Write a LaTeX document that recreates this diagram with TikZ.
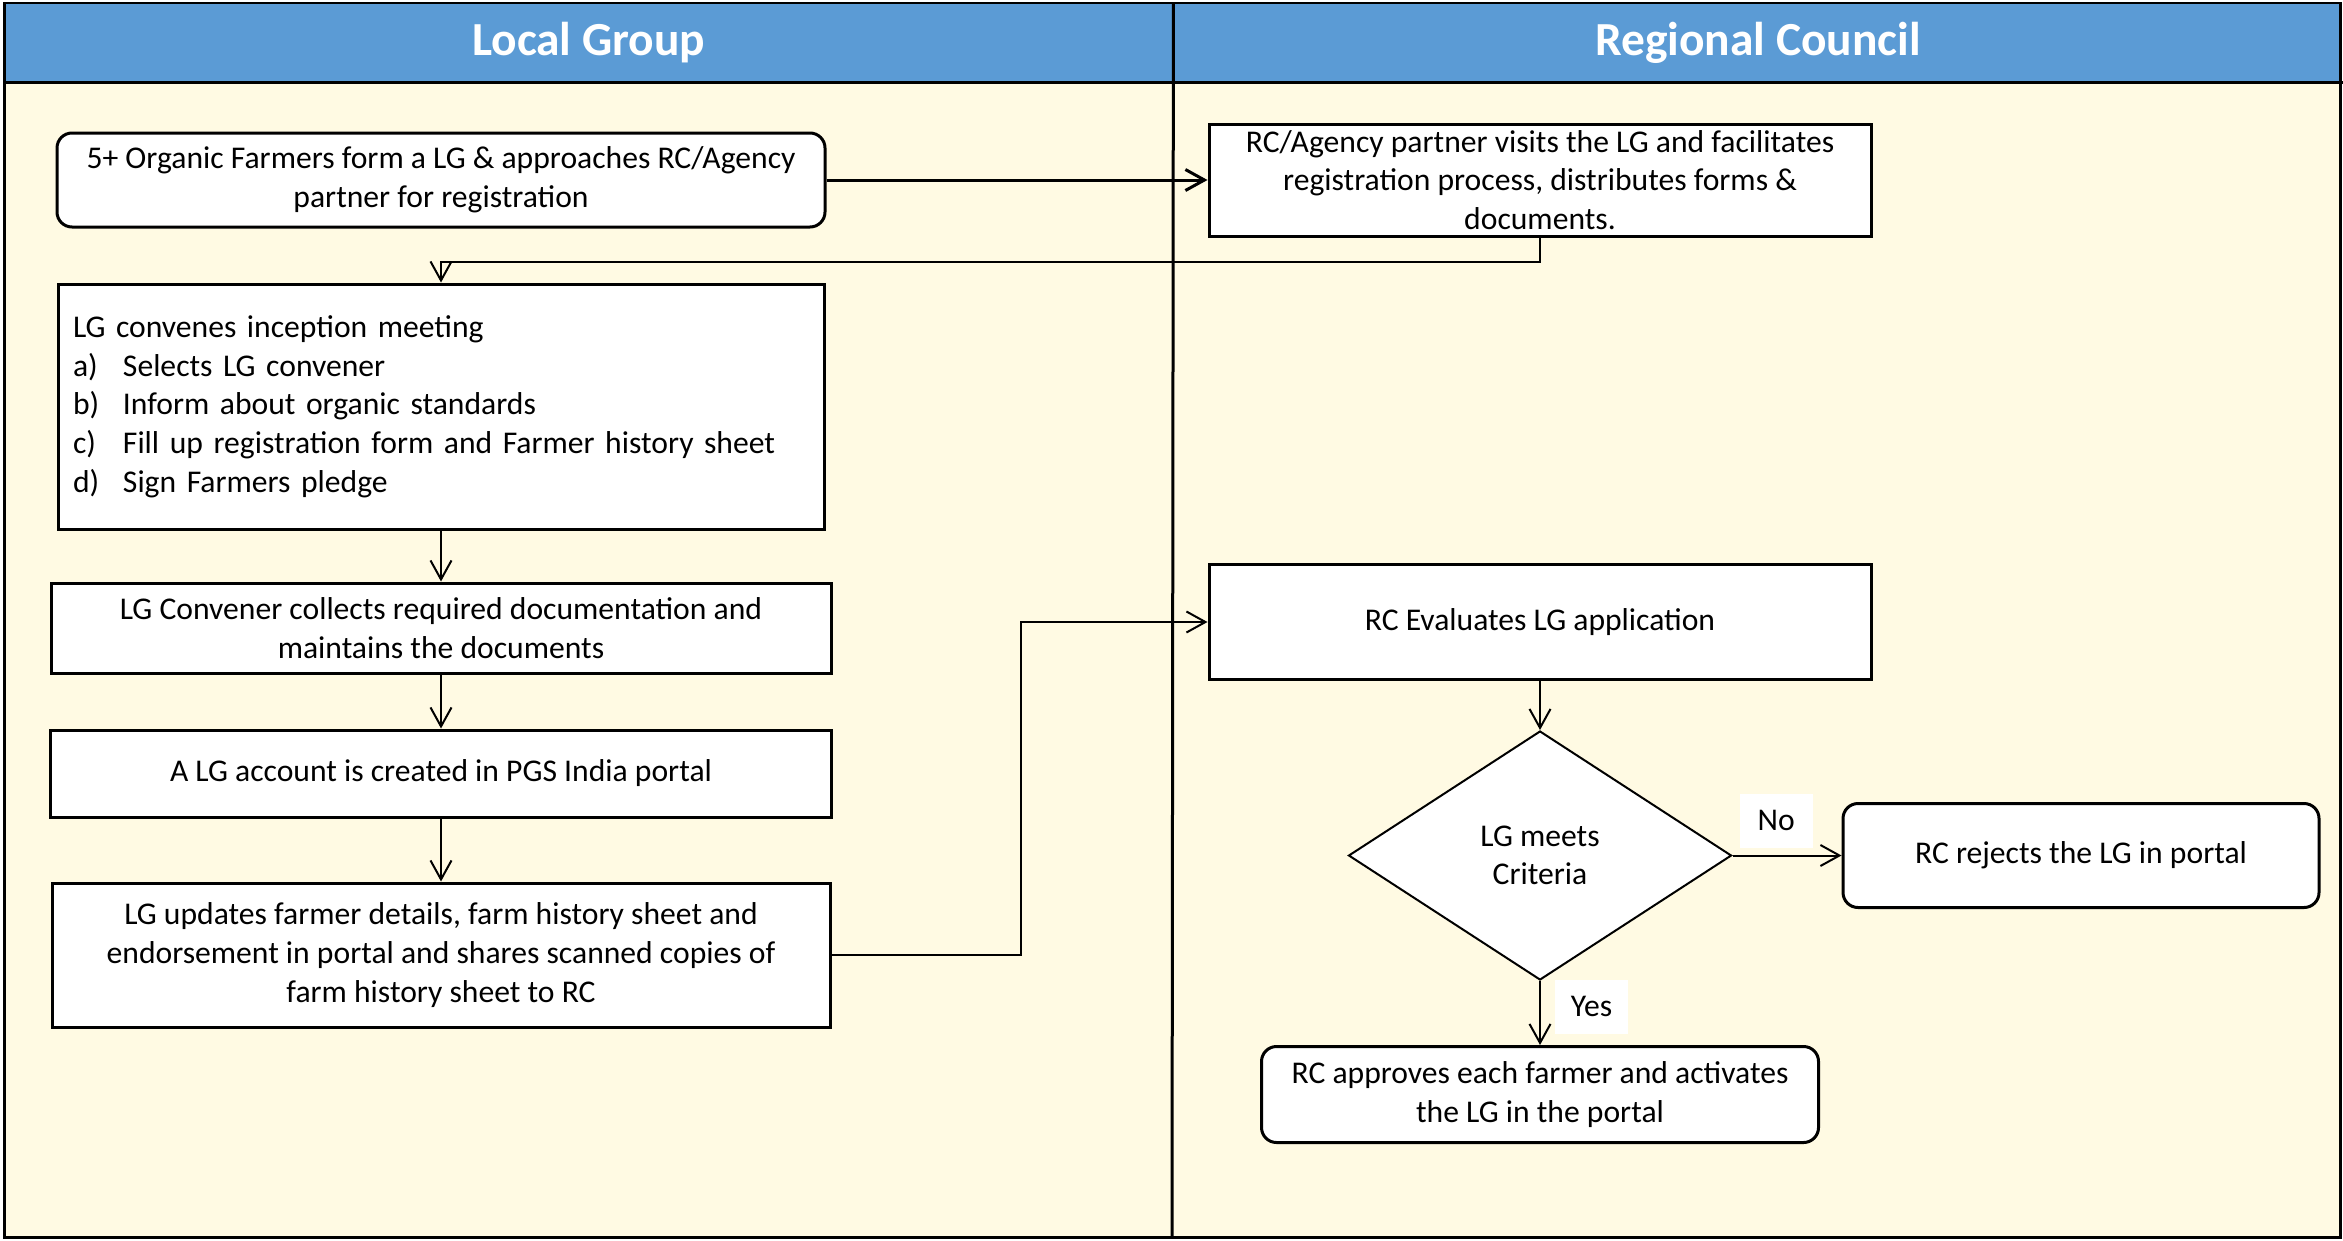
\documentclass[tikz,border=0pt]{standalone}
\usepackage{fontspec}
\setmainfont{Carlito}
\usetikzlibrary{positioning, calc, shapes.geometric, arrows.meta}

\definecolor{laneblue}{RGB}{91,155,213}
\definecolor{laneyellow}{RGB}{255,250,227}

\begin{document}
\begin{tikzpicture}[
        x=0.1mm, y=0.1mm,
        font=\fontsize{9}{11}\selectfont,
        block/.style={
          align=center, draw, fill=white, line width=0.3mm, inner xsep=1.5mm, inner ysep=0.5mm
        },
        rblock/.style={
          block, rounded corners=1.5mm
        },
        decision/.style={
          diamond, align=center, draw, fill=white, line width=0.2mm, inner sep=0mm, minimum width=38.3mm, minimum height=24.9mm
        },
        tag/.style={
          fill=white, minimum width=7.3mm, minimum height=5.4mm, inner sep=0mm
        },
        lanehead/.style={
          fill=laneblue, text=white, font=\fontsize{13.5}{15}\selectfont\bfseries, minimum width=116.8mm, minimum height=7.8mm, inner sep=0mm
        },
        >={Straight Barb[length=1.9mm, width=2.1mm]},
      ]
        \useasboundingbox (0,0) rectangle (2343,-1240);

        % Lanes
        \fill [laneyellow] (4,-81) rectangle (2340,-1237);
        \node [lanehead, anchor=north west] (lg_head) at (4,-3) {Local Group};
        \node [lanehead, anchor=north west] (rc_head) at (lg_head.north east) {Regional Council};
        \draw [line width=0.3mm] (4,-3) rectangle (2340,-1237);
        \draw [line width=0.3mm] (lg_head.south west) -- (rc_head.south east);
        \draw [line width=0.3mm] (lg_head.north east) -- (1172,-1237);

        % Local group steps
        \node [rblock, minimum width=76.8mm, minimum height=9.4mm] (lg_form) at (441,-180) {5+ Organic Farmers form a LG \& approaches RC/Agency\\partner for registration};
        \node [block, align=left, text width=73.6mm, minimum height=24.5mm, below=5.4mm of lg_form] (lg_meeting) {LG convenes inception meeting\\
          \makebox[5mm][l]{a)}Selects LG convener\\
          \makebox[5mm][l]{b)}Inform about organic standards\\
          \makebox[5mm][l]{c)}Fill up registration form and Farmer history sheet\\
          \makebox[5mm][l]{d)}Sign Farmers  pledge};
        \node [block, minimum width=78mm, minimum height=9mm, below=5.1mm of lg_meeting] (lg_collect) {LG Convener collects required documentation  and\\maintains the documents};
        \node [block, minimum width=78.1mm, minimum height=8.7mm, below=5.4mm of lg_collect] (lg_account) {A LG account is created in PGS India portal};
        \node [block, minimum width=77.8mm, minimum height=14.4mm, below=6.3mm of lg_account] (lg_update) {LG updates farmer details, farm history sheet and\\endorsement in portal and shares scanned copies of\\farm history sheet to RC};

        % Regional council steps
        \node [block, minimum width=66.2mm, minimum height=11.2mm, right=38.1mm of lg_form] (rc_visit) {RC/Agency partner  visits the LG and facilitates\\registration process, distributes forms \&\\documents.};
        \node [block, minimum width=66.2mm, minimum height=11.5mm] (rc_eval) at (1540,-622) {RC Evaluates LG application};
        \node [decision, below=4.9mm of rc_eval] (criteria) {LG meets\\Criteria};
        \node [rblock, minimum width=47.6mm, minimum height=10.4mm, right=10.9mm of criteria] (rc_reject) {RC rejects the LG in portal};
        \node [rblock, minimum width=55.7mm, minimum height=9.6mm, below=6.4mm of criteria] (rc_approve) {RC approves each farmer and activates\\the LG in the portal};

        % Arrows
        \draw [line width=0.3mm, ->] (lg_form.east) -- (rc_visit.west);
        \draw [line width=0.2mm, ->] (rc_visit.south) -- ++(0,-24) -| (lg_meeting.north);
        \draw [line width=0.2mm, ->] (lg_meeting.south) -- (lg_collect.north);
        \draw [line width=0.2mm, ->] (lg_collect.south) -- (lg_account.north);
        \draw [line width=0.2mm, ->] (lg_account.south) -- (lg_update.north);
        \draw [line width=0.2mm, ->] (lg_update.east) -- ++(18.9mm,0) |- (rc_eval.west);
        \draw [line width=0.2mm, ->] (rc_eval.south) -- (criteria.north);
        \draw [line width=0.2mm, ->] (criteria.east) -- node [tag, pos=0.4, above=0.7mm] (no_label) {No} (rc_reject.west);
        \draw [line width=0.2mm, ->] (criteria.south) -- node [tag, pos=0.4, right=1.4mm] (yes_label) {Yes} (rc_approve.north);

      \end{tikzpicture}
\end{document}
